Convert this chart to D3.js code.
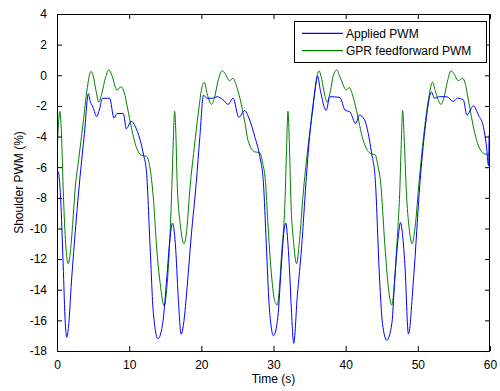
<!DOCTYPE html>
<html>
<head>
<meta charset="utf-8">
<script src="https://cdn.jsdelivr.net/npm/d3@7"></script>
<style>
  html, body { margin: 0; padding: 0; background: #fff; }
  svg text { font-family: "Liberation Sans", Arial, Helvetica, sans-serif; }
</style>
</head>
<body>
<svg id="chart" width="500" height="391"></svg>
<script>
// ---- data (time in s, PWM in %) ----
const seriesNames = ["Applied PWM", "GPR feedforward PWM"];
const appliedPWM = [[0,-6.6],[0.15,-6.3],[0.5,-8.0],[0.85,-12.3],[1.15,-16.2],[1.35,-17.1],[1.6,-16.4],[2.0,-13.5],[2.6,-9.8],[3.2,-6.6],[3.8,-3.8],[4.35,-1.2],[4.6,-1.7],[5.0,-2.1],[5.5,-2.7],[5.9,-2.2],[6.3,-1.5],[7.3,-1.5],[7.9,-2.8],[8.3,-2.5],[9.2,-2.5],[9.6,-3.5],[10.3,-3.0],[10.8,-3.3],[11.5,-4.2],[12.0,-5.2],[12.4,-6.3],[12.9,-11.2],[13.35,-15.5],[14.0,-17.2],[14.7,-16.0],[15.2,-13.3],[15.65,-10.7],[16.0,-9.65],[16.4,-11.0],[16.8,-14.5],[17.2,-16.9],[17.6,-16.0],[18.0,-14.0],[18.6,-10.5],[19.3,-7.0],[19.8,-4.0],[20.3,-1.3],[20.8,-1.5],[21.5,-1.5],[22.2,-1.4],[23.0,-1.6],[23.7,-1.9],[24.4,-1.5],[25.2,-2.75],[26.0,-2.3],[26.6,-2.8],[27.4,-4.0],[28.1,-5.3],[28.6,-7.0],[29.0,-11.0],[29.4,-15.0],[30.0,-17.0],[30.6,-15.8],[31.1,-12.3],[31.5,-10.0],[31.7,-9.65],[32.0,-11.0],[32.25,-13.0],[32.5,-15.5],[32.8,-17.5],[33.3,-14.4],[33.9,-11.2],[34.5,-7.0],[35.0,-4.0],[35.6,-1.5],[36.1,-0.05],[36.5,-1.0],[37.3,-2.3],[37.8,-1.4],[39.2,-1.45],[39.9,-2.27],[40.6,-2.4],[41.4,-3.15],[41.9,-2.6],[42.6,-2.9],[43.6,-5.1],[44.1,-6.8],[44.7,-13.3],[45.1,-16.2],[45.7,-17.3],[46.4,-16.2],[46.8,-13.3],[47.3,-10.5],[47.6,-9.6],[47.9,-10.5],[48.2,-12.3],[48.7,-16.9],[49.4,-13.3],[50.3,-7.0],[51.0,-3.5],[51.9,-1.1],[52.3,-1.5],[53.0,-1.4],[54.0,-1.4],[54.9,-1.7],[55.5,-1.5],[56.3,-1.6],[56.8,-2.6],[57.7,-2.0],[58.4,-2.6],[59.1,-3.4],[59.5,-4.6],[59.8,-5.9],[59.9,-3.9],[60,-7.9]];
const gprPWM = [[0,-5.2],[0.2,-3.2],[0.4,-2.35],[0.6,-3.6],[0.9,-8.0],[1.2,-11.0],[1.55,-12.3],[1.9,-11.3],[2.2,-9.5],[2.5,-7.5],[3.0,-5.5],[3.6,-3.2],[4.2,-0.8],[4.7,0.25],[5.0,0.0],[5.4,-1.0],[5.8,-1.75],[6.2,-1.2],[6.7,-0.2],[7.2,0.35],[7.6,0.0],[8.3,-0.95],[8.9,-0.75],[9.3,-1.1],[9.8,-2.2],[10.3,-3.4],[11.0,-4.7],[11.6,-5.2],[12.4,-5.3],[12.7,-5.6],[13.1,-6.8],[13.4,-8.3],[13.8,-11.2],[14.3,-13.6],[14.85,-15.05],[15.2,-14.0],[15.55,-11.5],[15.9,-7.5],[16.1,-4.5],[16.3,-2.35],[16.45,-3.5],[16.65,-7.0],[17.1,-9.8],[17.6,-11.0],[18.0,-10.0],[18.4,-7.5],[19.0,-4.8],[19.6,-2.4],[20.0,-1.0],[20.4,-0.45],[20.8,-1.2],[21.4,-1.9],[21.8,-1.5],[22.3,-0.4],[22.9,0.3],[23.3,0.1],[23.9,-0.35],[24.4,-0.2],[24.8,-0.6],[25.4,-1.6],[26.0,-3.0],[26.5,-4.3],[27.4,-5.0],[28.1,-5.05],[28.5,-5.75],[28.9,-7.0],[29.2,-9.5],[29.7,-12.9],[30.1,-14.6],[30.5,-15.0],[30.8,-14.0],[31.1,-11.8],[31.6,-8.1],[31.8,-5.0],[32.0,-2.35],[32.2,-4.5],[32.4,-8.0],[32.8,-11.0],[33.2,-12.3],[33.6,-10.8],[34.1,-7.8],[34.7,-5.0],[35.4,-2.4],[35.9,-0.5],[36.3,0.3],[36.7,-0.3],[37.1,-1.3],[37.45,-1.75],[37.9,-1.0],[38.3,0.0],[38.75,0.35],[39.2,-0.1],[40.1,-0.95],[40.5,-0.8],[40.9,-1.2],[41.5,-2.3],[42.4,-4.2],[43.4,-5.1],[44.1,-5.2],[44.5,-6.0],[44.8,-6.8],[45.45,-11.2],[45.9,-13.8],[46.4,-15.0],[46.8,-13.3],[47.1,-11.0],[47.5,-7.5],[47.7,-4.5],[47.9,-2.3],[48.1,-4.0],[48.4,-7.5],[48.8,-10.0],[49.2,-11.0],[49.6,-10.0],[50.2,-6.8],[50.8,-4.0],[51.5,-1.5],[52.05,-0.45],[52.4,-1.0],[53.2,-1.9],[53.6,-1.5],[54.1,-0.4],[54.6,0.3],[55.0,0.1],[55.6,-0.35],[56.2,-0.2],[56.6,-0.6],[57.0,-1.6],[57.9,-3.8],[58.85,-5.0],[59.4,-5.15],[60,-5.2]];
const xTicks = [0, 10, 20, 30, 40, 50, 60];
const yTicks = [4, 2, 0, -2, -4, -6, -8, -10, -12, -14, -16, -18];
const xDomain = [0, 60];
const yDomain = [-18, 4];
const xTitle = "Time (s)";
const yTitle = "Shoulder PWM (%)";

// ---- layout ----
const W = 500, H = 391;
const m = { left: 57, right: 10, top: 14, bottom: 40 };
const pw = W - m.left - m.right, ph = H - m.top - m.bottom;
const colors = ["#0000ff", "#008000"];

const svg = d3.select("#chart");
const x = d3.scaleLinear().domain(xDomain).range([m.left, m.left + pw]);
const y = d3.scaleLinear().domain(yDomain).range([m.top + ph, m.top]);

svg.append("rect").attr("x", 0).attr("y", 0).attr("width", W).attr("height", H).attr("fill", "#fff");

svg.append("defs").append("clipPath").attr("id", "clip")
  .append("rect").attr("x", m.left).attr("y", m.top).attr("width", pw).attr("height", ph);

const line = d3.line().x(d => x(d[0])).y(d => y(d[1])).curve(d3.curveMonotoneX);

const g = svg.append("g").attr("clip-path", "url(#clip)");
[gprPWM, appliedPWM].forEach((s, i) => {
  const ci = i === 0 ? 1 : 0;
  g.append("path").datum(s).attr("d", line)
    .attr("fill", "none").attr("stroke", colors[ci]).attr("stroke-width", 1);
});

// axes (MATLAB style: ticks inside, on all sides)
const tl = 5;
const fmt = d => (d < 0 ? "-" + Math.abs(d) : String(d));
const ax = svg.append("g").attr("transform", `translate(0,${m.top + ph})`)
  .call(d3.axisBottom(x).tickValues(xTicks).tickSize(-tl).tickSizeOuter(0).tickPadding(9).tickFormat(fmt));
const axTop = svg.append("g").attr("transform", `translate(0,${m.top})`)
  .call(d3.axisTop(x).tickValues(xTicks).tickSize(-tl).tickSizeOuter(0).tickFormat(""));
const ay = svg.append("g").attr("transform", `translate(${m.left},0)`)
  .call(d3.axisLeft(y).tickValues(yTicks).tickSize(-tl).tickSizeOuter(0).tickPadding(10).tickFormat(fmt));
const ayR = svg.append("g").attr("transform", `translate(${m.left + pw},0)`)
  .call(d3.axisRight(y).tickValues(yTicks).tickSize(-tl).tickSizeOuter(0).tickFormat(""));
[ax, axTop, ay, ayR].forEach(a => {
  a.select(".domain").remove();
  a.selectAll("line").attr("stroke", "#000");
  a.selectAll("text").attr("fill", "#000").attr("font-size", 12)
    .attr("font-family", "'Liberation Sans', Arial, sans-serif");
});
svg.append("rect").attr("x", m.left + 0.5).attr("y", m.top + 0.5)
  .attr("width", pw - 1).attr("height", ph).attr("fill", "none").attr("stroke", "#000");

// titles
svg.append("text").attr("x", m.left + pw / 2).attr("y", 383)
  .attr("text-anchor", "middle").attr("font-size", 12).text(xTitle);
svg.append("text").attr("transform", `translate(22.5,${m.top + ph / 2}) rotate(-90)`)
  .attr("text-anchor", "middle").attr("font-size", 12).text(yTitle);

// legend
const lg = svg.append("g");
lg.append("rect").attr("x", 294.5).attr("y", 21.5).attr("width", 192).attr("height", 41)
  .attr("fill", "#fff").attr("stroke", "#000");
seriesNames.forEach((n, i) => {
  const yy = 33.3 + i * 17.4;
  lg.append("line").attr("x1", 302).attr("x2", 343).attr("y1", yy).attr("y2", yy)
    .attr("stroke", colors[i]).attr("stroke-width", 1.2);
  lg.append("text").attr("x", 346).attr("y", yy + 4.4).attr("font-size", 12).text(n);
});
</script>
</body>
</html>
